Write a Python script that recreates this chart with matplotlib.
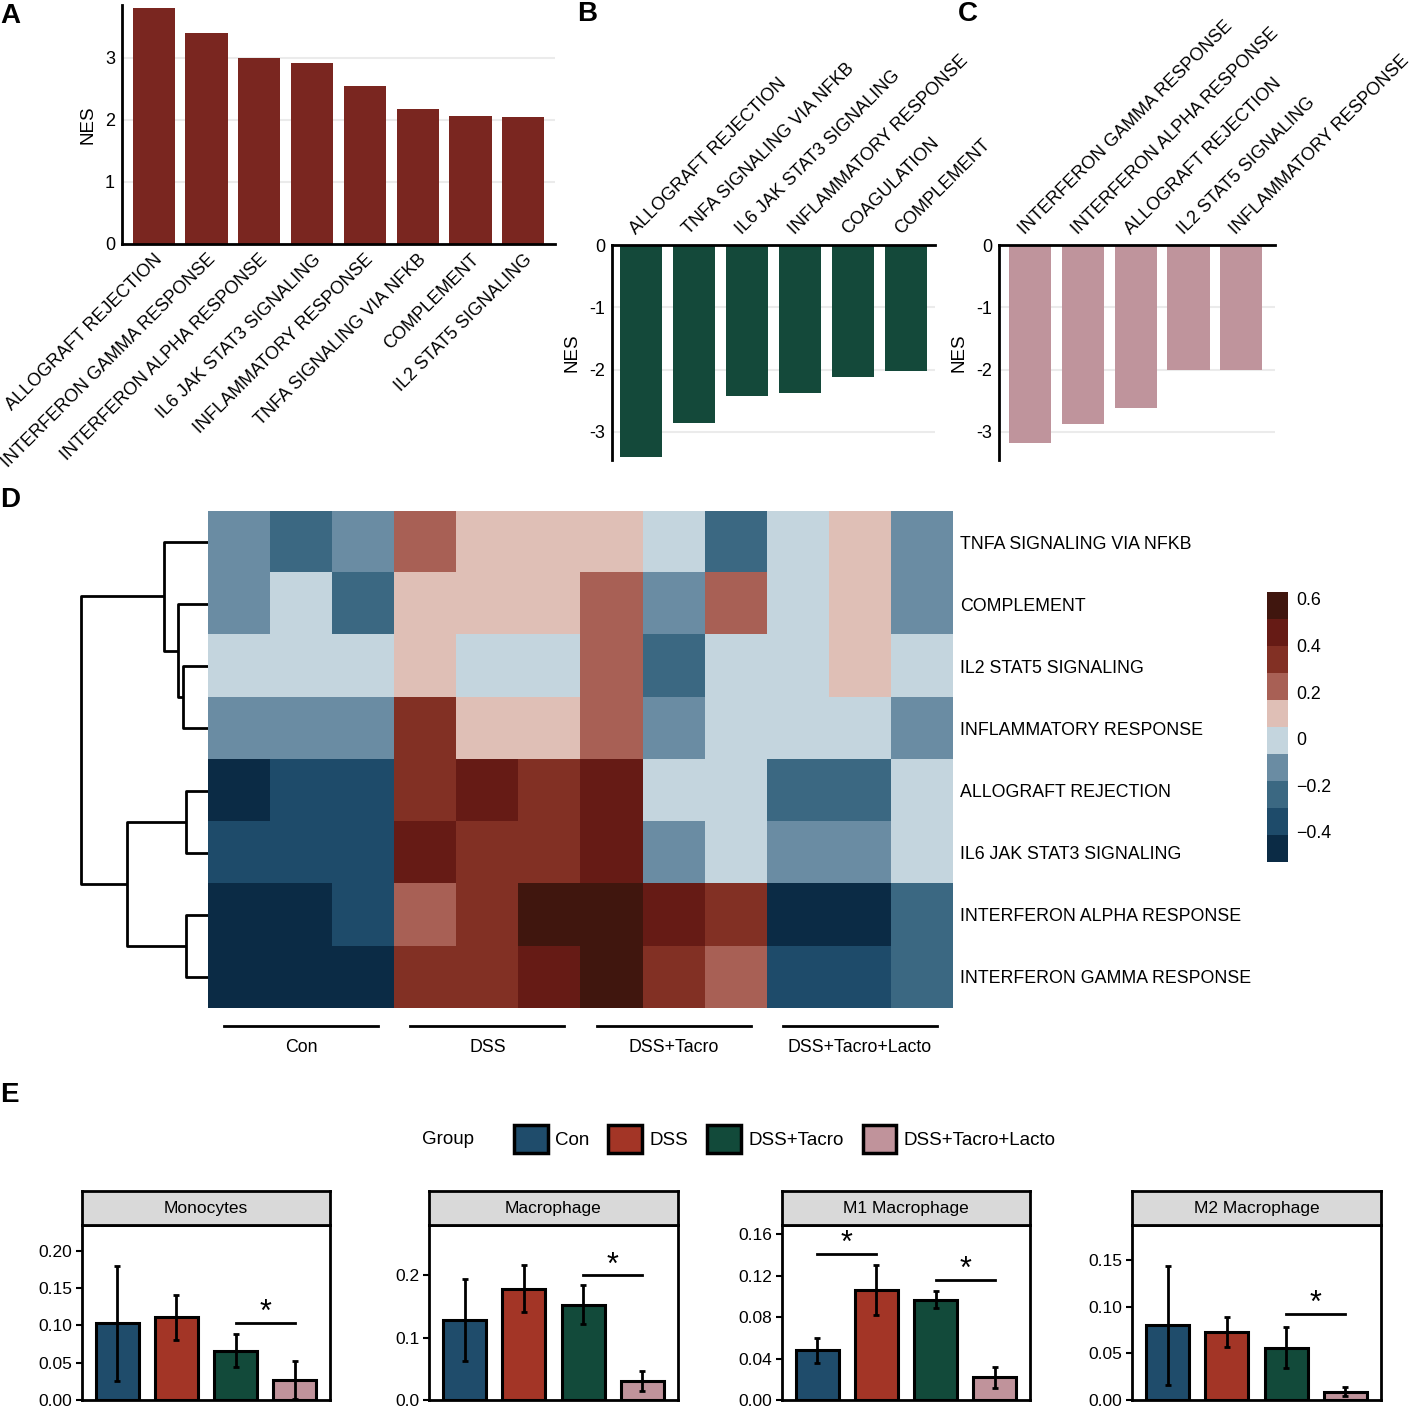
import numpy as np
import matplotlib
matplotlib.use('Agg')
import matplotlib.pyplot as plt
from matplotlib.colors import ListedColormap, BoundaryNorm
from matplotlib.cm import ScalarMappable
from matplotlib.patches import Patch
import matplotlib.transforms as mtransforms

plt.rcParams['font.family'] = ['Liberation Sans', 'DejaVu Sans']

# ---------------- data ----------------
# A: enriched hallmarks (positive NES)
a_terms = ['ALLOGRAFT REJECTION', 'INTERFERON GAMMA RESPONSE', 'INTERFERON ALPHA RESPONSE',
           'IL6 JAK STAT3 SIGNALING', 'INFLAMMATORY RESPONSE', 'TNFA SIGNALING VIA NFKB',
           'COMPLEMENT', 'IL2 STAT5 SIGNALING']
a_nes = [3.80, 3.40, 3.00, 2.92, 2.55, 2.18, 2.06, 2.04]

# B: negative NES
b_terms = ['ALLOGRAFT REJECTION', 'TNFA SIGNALING VIA NFKB', 'IL6 JAK STAT3 SIGNALING',
           'INFLAMMATORY RESPONSE', 'COAGULATION', 'COMPLEMENT']
b_nes = [-3.40, -2.85, -2.42, -2.38, -2.12, -2.02]

# C: negative NES
c_terms = ['INTERFERON GAMMA RESPONSE', 'INTERFERON ALPHA RESPONSE', 'ALLOGRAFT REJECTION',
           'IL2 STAT5 SIGNALING', 'INFLAMMATORY RESPONSE']
c_nes = [-3.17, -2.88, -2.62, -2.01, -2.01]

# D: heatmap of GSVA scores (rows top -> bottom, 3 samples per group)
hm_rows = ['TNFA SIGNALING VIA NFKB', 'COMPLEMENT', 'IL2 STAT5 SIGNALING', 'INFLAMMATORY RESPONSE',
           'ALLOGRAFT REJECTION', 'IL6 JAK STAT3 SIGNALING', 'INTERFERON ALPHA RESPONSE',
           'INTERFERON GAMMA RESPONSE']
hm_groups = ['Con', 'DSS', 'DSS+Tacro', 'DSS+Tacro+Lacto']
hm_values = np.array([
    [-0.12, -0.24, -0.12, 0.22, 0.11, 0.11, 0.11, 0.00, -0.24, 0.00, 0.11, -0.12],
    [-0.12, 0.00, -0.24, 0.11, 0.11, 0.11, 0.22, -0.12, 0.22, 0.00, 0.11, -0.12],
    [0.00, 0.00, 0.00, 0.11, 0.00, 0.00, 0.22, -0.24, 0.00, 0.00, 0.11, 0.00],
    [-0.12, -0.12, -0.12, 0.34, 0.11, 0.11, 0.22, -0.12, 0.00, 0.00, 0.00, -0.12],
    [-0.47, -0.36, -0.36, 0.34, 0.46, 0.34, 0.46, 0.00, 0.00, -0.24, -0.24, 0.00],
    [-0.36, -0.36, -0.36, 0.46, 0.34, 0.34, 0.46, -0.12, 0.00, -0.12, -0.12, 0.00],
    [-0.47, -0.47, -0.36, 0.22, 0.34, 0.57, 0.57, 0.46, 0.34, -0.47, -0.47, -0.24],
    [-0.47, -0.47, -0.47, 0.34, 0.34, 0.46, 0.57, 0.34, 0.22, -0.36, -0.36, -0.24],
])
# row dendrogram merges (left, right, height); leaves 0..7, new nodes from 8
row_linkage = [(2, 3, 0.20), (1, 8, 0.24), (0, 9, 0.35), (4, 5, 0.17),
               (6, 7, 0.17), (11, 12, 0.64), (10, 13, 1.00)]

# E: immune cell fractions
cell_types = ['Monocytes', 'Macrophage', 'M1 Macrophage', 'M2 Macrophage']
groups = ['Con', 'DSS', 'DSS+Tacro', 'DSS+Tacro+Lacto']
frac_mean = {'Monocytes': [0.103, 0.111, 0.066, 0.027],
             'Macrophage': [0.128, 0.179, 0.153, 0.031],
             'M1 Macrophage': [0.048, 0.106, 0.097, 0.022],
             'M2 Macrophage': [0.080, 0.073, 0.056, 0.009]}
frac_sd = {'Monocytes': [0.077, 0.030, 0.022, 0.025],
           'Macrophage': [0.066, 0.037, 0.031, 0.016],
           'M1 Macrophage': [0.012, 0.024, 0.008, 0.010],
           'M2 Macrophage': [0.064, 0.016, 0.022, 0.005]}
sig_pairs = {'Monocytes': [(2, 3, 0.103)],
             'Macrophage': [(2, 3, 0.200)],
             'M1 Macrophage': [(0, 1, 0.141), (2, 3, 0.116)],
             'M2 Macrophage': [(2, 3, 0.092)]}
frac_ylim = {'Monocytes': 0.2346, 'Macrophage': 0.281, 'M1 Macrophage': 0.169, 'M2 Macrophage': 0.1875}
frac_ticks = {'Monocytes': ([0, 0.05, 0.10, 0.15, 0.20], '{:.2f}'),
              'Macrophage': ([0, 0.1, 0.2], '{:.1f}'),
              'M1 Macrophage': ([0, 0.04, 0.08, 0.12, 0.16], '{:.2f}'),
              'M2 Macrophage': ([0, 0.05, 0.10, 0.15], '{:.2f}')}

# ---------------- styles ----------------
group_colors = ['#1f4c6b', '#a33526', '#124a3a', '#c0939b']
hm_colors = ['#0b2b45', '#1e4b6a', '#3b6882', '#6a8ca3', '#c4d5de',
             '#dfbfb6', '#a86055', '#823024', '#661b15', '#40160e']

W, H = 1415, 1410
fig = plt.figure(figsize=(W / 100, H / 100), dpi=100)


def box(x0, y0, x1, y1):
    return [x0 / W, 1 - y1 / H, (x1 - x0) / W, (y1 - y0) / H]


def nes_axes(ax, top_axis):
    ax.set_axisbelow(True)
    ax.yaxis.grid(True, color='#ebebeb', lw=1.5)
    for s in ax.spines.values():
        s.set_visible(False)
    ax.spines['left'].set_visible(True)
    ax.spines['left'].set_linewidth(2)
    side = 'top' if top_axis else 'bottom'
    ax.spines[side].set_visible(True)
    ax.spines[side].set_linewidth(2)
    ax.tick_params(length=0, labelsize=13, pad=5)
    ax.set_ylabel('NES', fontsize=13.5, labelpad=6)


# ---- A ----
ax = fig.add_axes(box(122, 5, 555, 244))
ax.bar(range(len(a_nes)), a_nes, width=0.8, color='#7a2620')
ax.set_xlim(-0.6, 7.6)
ax.set_ylim(0, 3.85)
ax.set_yticks([0, 1, 2, 3])
nes_axes(ax, False)
ax.set_xticks(range(len(a_terms)))
ax.set_xticklabels(a_terms, rotation=45, ha='right', va='top', rotation_mode='anchor')

# ---- B ----
ax = fig.add_axes(box(612, 245, 935, 460))
ax.bar(range(len(b_nes)), b_nes, width=0.8, color='#14493a')
ax.set_xlim(-0.55, 5.55)
ax.set_ylim(-3.45, 0)
ax.set_yticks([-3, -2, -1, 0])
ax.set_yticklabels(['-3', '-2', '-1', '0'])
nes_axes(ax, True)
ax.xaxis.tick_top()
ax.set_xticks(np.arange(len(b_terms)) - 0.04)
ax.set_xticklabels(b_terms, rotation=45, ha='left', va='bottom', rotation_mode='anchor')

# ---- C ----
ax = fig.add_axes(box(999, 245, 1275, 460))
ax.bar(range(len(c_nes)), c_nes, width=0.8, color='#bf949c')
ax.set_xlim(-0.59, 4.64)
ax.set_ylim(-3.45, 0)
ax.set_yticks([-3, -2, -1, 0])
ax.set_yticklabels(['-3', '-2', '-1', '0'])
nes_axes(ax, True)
ax.xaxis.tick_top()
ax.set_xticks(np.arange(len(c_terms)) - 0.04)
ax.set_xticklabels(c_terms, rotation=45, ha='left', va='bottom', rotation_mode='anchor')

# ---- D: heatmap ----
bounds = np.linspace(-0.53, 0.63, 11)
cmap = ListedColormap(hm_colors)
norm = BoundaryNorm(bounds, cmap.N)

ax = fig.add_axes(box(208, 511, 953, 1008))
ax.imshow(hm_values, cmap=cmap, norm=norm, aspect='auto', interpolation='nearest')
for s in ax.spines.values():
    s.set_visible(False)
ax.set_xticks([])
ax.yaxis.tick_right()
ax.set_yticks(range(len(hm_rows)))
ax.set_yticklabels(hm_rows, fontsize=12.8)
ax.tick_params(length=0, pad=5)
for g, name in enumerate(hm_groups):
    x0, x1 = 3 * g - 0.5 + 0.26, 3 * g + 2.5 - 0.26
    ax.plot([x0, x1], [7.79, 7.79], color='black', lw=2, clip_on=False)
    ax.text((x0 + x1) / 2, 8.13, name, ha='center', va='center', fontsize=12.8)
ax.set_xlim(-0.5, 11.5)
ax.set_ylim(7.5, -0.5)

# dendrogram
dax = fig.add_axes(box(75, 511, 208, 1008))
pos = {i: float(i) for i in range(len(hm_rows))}
hgt = {i: 0.0 for i in range(len(hm_rows))}
for k, (l, r, h) in enumerate(row_linkage):
    node = len(hm_rows) + k
    dax.plot([hgt[l], h, h, hgt[r]], [pos[l], pos[l], pos[r], pos[r]],
             color='black', lw=2, solid_capstyle='butt')
    pos[node] = (pos[l] + pos[r]) / 2
    hgt[node] = h
dax.set_ylim(7.5, -0.5)
dax.set_xlim(1.047, 0)
dax.axis('off')

# colorbar
cax = fig.add_axes(box(1267, 592, 1288, 862))
cb = fig.colorbar(ScalarMappable(norm=norm, cmap=cmap), cax=cax,
                  ticks=[-0.4, -0.2, 0, 0.2, 0.4, 0.6])
cb.outline.set_visible(False)
cax.minorticks_off()
cb.ax.set_yticklabels(['\u22120.4', '\u22120.2', '0', '0.2', '0.4', '0.6'])
cax.tick_params(which='both', length=0, labelsize=12.8, pad=6)

# ---- E ----
panel_x = [(82, 330), (429, 678), (782, 1030), (1132, 1381)]
star_shift = mtransforms.ScaledTranslation(0, -5 / 100, fig.dpi_scale_trans)
for ct, (x0, x1) in zip(cell_types, panel_x):
    ax = fig.add_axes(box(x0, 1225, x1, 1400))
    ax.bar(range(len(groups)), frac_mean[ct], width=0.73, color=group_colors,
           edgecolor='black', lw=2.2, yerr=frac_sd[ct],
           error_kw=dict(ecolor='black', elinewidth=2, capsize=2, capthick=2))
    for i, j, y in sig_pairs[ct]:
        ax.plot([i, j], [y, y], color='black', lw=2)
        ax.text((i + j) / 2, y, '*', ha='center', va='bottom', fontsize=22,
                transform=ax.transData + star_shift)
    ax.set_xlim(-0.6, 3.6)
    ax.set_ylim(0, frac_ylim[ct])
    ticks, fmt = frac_ticks[ct]
    ax.set_yticks(ticks)
    ax.set_yticklabels([fmt.format(t) for t in ticks])
    ax.set_xticks([])
    ax.tick_params(axis='y', length=4, width=1.5, labelsize=12.5, pad=3)
    for s in ax.spines.values():
        s.set_linewidth(2)
    sax = fig.add_axes(box(x0, 1191, x1, 1225))
    sax.set_facecolor('#d9d9d9')
    sax.set_xticks([])
    sax.set_yticks([])
    for s in sax.spines.values():
        s.set_linewidth(2)
    sax.text(0.5, 0.5, ct, ha='center', va='center', fontsize=12.5, transform=sax.transAxes)

handles = [Patch(facecolor=c, edgecolor='black', lw=2.5) for c in group_colors]
fig.legend(handles, groups, loc='center', bbox_to_anchor=(785 / W, 1 - 1139 / H), ncol=4,
           frameon=False, fontsize=13.5, handlelength=1.8, handleheight=1.9,
           columnspacing=1.0, handletextpad=0.4)
fig.text(422 / W, 1 - 1140 / H, 'Group', fontsize=13.5, va='center')

# panel letters
for letter, (x, y) in zip('ABCDE', [(0, 16), (577, 14), (958, 14), (0, 500), (0, 1095)]):
    fig.text(x / W, 1 - y / H, letter, fontsize=20, fontweight='bold', va='center')

fig.savefig('out.png', dpi=100)
